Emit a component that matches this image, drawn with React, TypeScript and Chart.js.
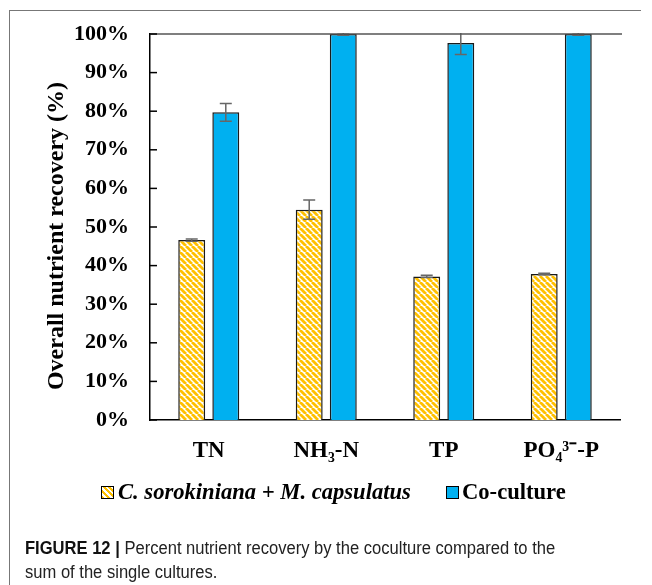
import React, { useEffect, useRef } from "react";
import { Chart, registerables } from "chart.js";

Chart.register(...registerables);

const categories = ["TN", "NH₃-N", "TP", "PO₄³⁻-P"];
const singleSum = [46.6, 54.5, 37.2, 37.8];
const singleErr = [0.3, 2.5, 0.3, 0.2];
const coculture = [79.7, 100, 97.7, 100];
const cocultureErr = [2.3, 0.3, 3.0, 0.3];
const yTicks = [0, 10, 20, 30, 40, 50, 60, 70, 80, 90, 100];

const YELLOW = "#FFC000";
const BLUE = "#00B0F0";
const SERIF = "'Liberation Serif', 'Times New Roman', serif";

function makePattern(): CanvasPattern | string {
  const s = 6;
  const c = document.createElement("canvas");
  c.width = s;
  c.height = s;
  const g = c.getContext("2d");
  if (!g) return YELLOW;
  g.fillStyle = "#fff";
  g.fillRect(0, 0, s, s);
  g.strokeStyle = YELLOW;
  g.lineWidth = 2.8;
  g.beginPath();
  for (const k of [-s, 0, s]) {
    g.moveTo(k, 0);
    g.lineTo(k + s, s);
  }
  g.stroke();
  const p = g.createPattern(c, "repeat");
  return p || YELLOW;
}

const errorBarPlugin = {
  id: "errorBars",
  afterDatasetsDraw(chart: any) {
    const ctx = chart.ctx;
    const y = chart.scales.y;
    const area = chart.chartArea;
    const errs = [singleErr, cocultureErr];
    ctx.save();
    ctx.beginPath();
    ctx.rect(area.left, area.top - 1, area.right - area.left, area.bottom - area.top + 1);
    ctx.clip();
    ctx.strokeStyle = "#666";
    ctx.lineWidth = 1.5;
    chart.data.datasets.forEach((ds: any, di: number) => {
      const meta = chart.getDatasetMeta(di);
      meta.data.forEach((el: any, i: number) => {
        const v = ds.data[i];
        const e = errs[di][i];
        const x = el.x;
        const y1 = y.getPixelForValue(v + e);
        const y2 = y.getPixelForValue(v - e);
        ctx.beginPath();
        ctx.moveTo(x, y1);
        ctx.lineTo(x, y2);
        ctx.moveTo(x - 6, y1);
        ctx.lineTo(x + 6, y1);
        ctx.moveTo(x - 6, y2);
        ctx.lineTo(x + 6, y2);
        ctx.stroke();
      });
    });
    ctx.restore();
  },
};

const axisDecorPlugin = {
  id: "axisDecor",
  afterDraw(chart: any) {
    const ctx = chart.ctx;
    const y = chart.scales.y;
    const area = chart.chartArea;
    ctx.save();
    ctx.strokeStyle = "#555";
    ctx.lineWidth = 1.5;
    const yt = y.getPixelForValue(100);
    ctx.beginPath();
    ctx.moveTo(area.left, yt);
    ctx.lineTo(area.right + 2, yt);
    ctx.stroke();
    ctx.strokeStyle = "#000";
    ctx.lineWidth = 1.5;
    yTicks.forEach((t) => {
      const py = y.getPixelForValue(t);
      ctx.beginPath();
      ctx.moveTo(area.left, py);
      ctx.lineTo(area.left + 7, py);
      ctx.stroke();
    });
    ctx.restore();
  },
};

function ChartCanvas() {
  const ref = useRef<HTMLCanvasElement | null>(null);
  useEffect(() => {
    if (!ref.current) return;
    const pattern = makePattern();
    const chart = new Chart(ref.current, {
      type: "bar",
      data: {
        labels: categories,
        datasets: [
          {
            label: "C. sorokiniana + M. capsulatus",
            data: singleSum,
            backgroundColor: pattern as any,
            borderColor: "#1a1a1a",
            borderWidth: 1.5,
            barPercentage: 0.79,
            categoryPercentage: 0.58,
          },
          {
            label: "Co-culture",
            data: coculture,
            backgroundColor: BLUE,
            borderColor: "#1a1a1a",
            borderWidth: 1.5,
            barPercentage: 0.79,
            categoryPercentage: 0.58,
          },
        ],
      },
      options: {
        responsive: false,
        animation: false,
        layout: { padding: { left: 20, top: 34, right: 32, bottom: 115 } },
        plugins: {
          legend: { display: false },
          tooltip: { enabled: false },
        },
        scales: {
          x: {
            grid: { display: false },
            border: { display: true, color: "#000", width: 1.5 },
            ticks: {
              color: "#000",
              padding: 9,
              font: { family: SERIF, size: 23, weight: "bold" },
            },
            afterFit: (s: any) => {
              s.height = 50;
            },
          },
          y: {
            min: 0,
            max: 100,
            afterBuildTicks: (s: any) => {
              s.ticks = yTicks.map((v) => ({ value: v }));
            },
            grid: { display: false },
            border: { display: true, color: "#000", width: 1.5 },
            ticks: {
              color: "#000",
              padding: 13,
              font: { family: SERIF, size: 22, weight: "bold" },
              callback: (v: any) => `${v}%`,
            },
            title: {
              display: true,
              text: "Overall nutrient recovery (%)   ",
              color: "#000",
              font: { family: SERIF, size: 24, weight: "bold" },
              padding: { top: 22, bottom: 0 },
            },
            afterFit: (s: any) => {
              s.width = 130;
            },
          },
        },
      },
      plugins: [errorBarPlugin, axisDecorPlugin],
    });
    return () => chart.destroy();
  }, []);
  return (
    <canvas
      ref={ref}
      width={652}
      height={585}
      style={{ position: "absolute", left: 0, top: 0, width: 652, height: 585 }}
    />
  );
}

export default function App() {
  const legendText: React.CSSProperties = {
    fontFamily: SERIF,
    fontWeight: "bold",
    fontSize: 22.6,
    color: "#000",
    whiteSpace: "nowrap",
    lineHeight: "26px",
  };
  return (
    <div
      style={{
        position: "absolute",
        left: 0,
        top: 0,
        width: 652,
        height: 585,
        background: "#fff",
        overflow: "hidden",
      }}
    >
      <div style={{ position: "absolute", left: 9, top: 10, width: 632, height: 1, background: "#777" }} />
      <div style={{ position: "absolute", left: 9, top: 10, width: 1, height: 575, background: "#777" }} />
      <ChartCanvas />
      <div style={{ position: "absolute", left: 101, top: 479, display: "flex", alignItems: "center" }}>
        <span
          style={{
            display: "inline-block",
            width: 11,
            height: 11,
            border: "1px solid #000",
            background: `repeating-linear-gradient(45deg, ${YELLOW} 0 2px, #fff 2px 4px)`,
            marginRight: 4,
          }}
        />
        <span style={{ ...legendText, fontStyle: "italic" }}>C. sorokiniana + M. capsulatus</span>
      </div>
      <div style={{ position: "absolute", left: 446, top: 479, display: "flex", alignItems: "center" }}>
        <span
          style={{
            display: "inline-block",
            width: 11,
            height: 11,
            border: "1px solid #000",
            background: BLUE,
            marginRight: 3,
          }}
        />
        <span style={legendText}>Co-culture</span>
      </div>
      <div
        style={{
          position: "absolute",
          left: 25,
          top: 536,
          fontFamily: "'Liberation Sans', Arial, sans-serif",
          fontSize: 18,
          lineHeight: "24px",
          color: "#222",
          whiteSpace: "nowrap",
          transform: "scaleX(0.92)",
          transformOrigin: "0 0",
        }}
      >
        <div>
          <b style={{ color: "#111" }}>FIGURE 12 | </b>Percent nutrient recovery by the coculture compared to the
        </div>
        <div>sum of the single cultures.</div>
      </div>
    </div>
  );
}
